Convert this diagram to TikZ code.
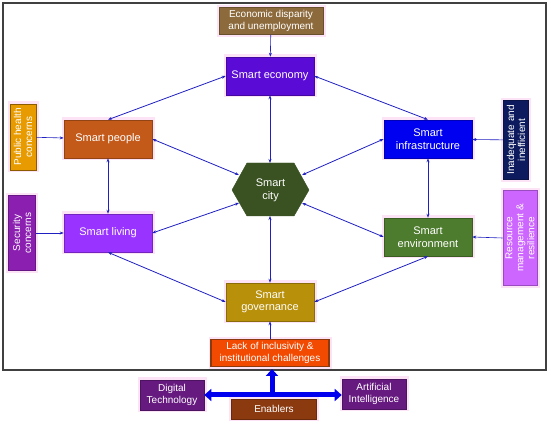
\documentclass[tikz,border=0pt]{standalone}
\usepackage{fontspec}
\setmainfont{Liberation Sans}
\usetikzlibrary{arrows.meta}
\definecolor{cEcon}{HTML}{8C6A3C}
\definecolor{cEconomy}{HTML}{5A0BD6}
\definecolor{cPeople}{HTML}{C45A1A}
\definecolor{cHealth}{HTML}{E89B00}
\definecolor{cInfra}{HTML}{0000F0}
\definecolor{cInad}{HTML}{0D1B5E}
\definecolor{cCity}{HTML}{3A5222}
\definecolor{cLiving}{HTML}{9933FF}
\definecolor{cSecurity}{HTML}{8A1FB0}
\definecolor{cEnv}{HTML}{4E7C2E}
\definecolor{cRes}{HTML}{CC66FF}
\definecolor{cGov}{HTML}{B8900A}
\definecolor{cLack}{HTML}{F24A00}
\definecolor{cTech}{HTML}{661A80}
\definecolor{cEnab}{HTML}{8B3A10}
\definecolor{cLine}{HTML}{2020C0}
\definecolor{cBig}{HTML}{0000EE}
\definecolor{cHalo}{HTML}{FCE4F6}
\begin{document}
\begin{tikzpicture}[x=1pt,y=-1pt,
  halo/.style={preaction={draw=cHalo,line width=5pt}},
  box/.style={halo,draw=#1!75!black,line width=0.6pt,fill=#1,text=white,inner sep=0pt,align=center,
    font=\fontsize{11}{12.5}\selectfont,minimum width=88pt,minimum height=38pt},
  sidebox/.style={halo,draw=#1!75!black,line width=0.6pt,fill=#1,text=white,inner sep=0pt,align=center,
    font=\fontsize{10}{11}\selectfont,rotate=90},
  smallbox/.style={halo,draw=#1!75!black,line width=0.6pt,fill=#1,text=white,inner sep=0pt,align=center,
    font=\fontsize{10}{11.5}\selectfont},
  conn/.style={draw=cLine,line width=0.8pt,>={Stealth[length=4pt,width=3pt]},<->},
  feed/.style={draw=cLine,line width=0.6pt,>={Stealth[length=4pt,width=3pt]},->},
  big/.style={draw=cBig,line width=5pt,>={Triangle[length=7pt,width=12pt]}}
]
\useasboundingbox (0,0) rectangle (550,422);
\draw[line width=1.2pt,draw=black!75] (3,3) rectangle (546,370);

% top
\node[smallbox=cEcon,minimum width=104pt,minimum height=27pt] (econ) at (271,21) {Economic disparity\\and unemployment};
\node[box=cEconomy] (economy) at (270,76) {Smart economy};
\node[box=cPeople] (people) at (108,139) {Smart people};
\node[box=cInfra] (infra) at (428,139) {Smart\\infrastructure};
\node[box=cLiving] (living) at (108,233) {Smart living};
\node[box=cEnv] (env) at (428,237) {Smart\\environment};
\node[box=cGov] (gov) at (270,302) {Smart\\governance};

% side boxes
\node[sidebox=cHealth,draw=cHealth!60!black,minimum width=66pt,minimum height=26pt] (health) at (23,137) {Public health\\concerns};
\node[sidebox=cSecurity,minimum width=75pt,minimum height=27pt] (security) at (22,233) {Security\\concerns};
\node[sidebox=cInad,minimum width=79pt,minimum height=25pt] (inad) at (516,140) {Inadequate and\\inefficient};
\node[sidebox=cRes,minimum width=95pt,minimum height=34pt] (res) at (520,238) {Resource\\management \&\\resilience};

% hexagon
\draw[fill=cCity,draw=cCity] (232,190) -- (247,163) -- (294,163) -- (309,190) -- (294,216) -- (247,216) -- cycle;
\node[text=white,align=center,font=\fontsize{11}{13}\selectfont] (city) at (270.5,190) {Smart\\city};
\coordinate (cn) at (270,163);
\coordinate (cs) at (270,216);
\coordinate (cnw) at (239,175);
\coordinate (cne) at (302,175);
\coordinate (csw) at (239,203);
\coordinate (cse) at (302,203);

% bottom
\node[smallbox=cLack,draw=cEnab,line width=1.5pt,minimum width=118pt,minimum height=27pt] (lack) at (270,353) {Lack of inclusivity \&\\institutional challenges};
\node[smallbox=cTech,minimum width=64pt,minimum height=30pt] (tech) at (172,395) {Digital\\Technology};
\node[smallbox=cTech,minimum width=64pt,minimum height=30pt] (ai) at (374,394) {Artificial\\Intelligence};
\node[smallbox=cEnab,minimum width=85pt,minimum height=20pt] (enab) at (274,409) {Enablers};

% connectors
\draw[feed] (econ) -- (economy);
\draw[conn] (economy.west) -- (people.north);
\draw[conn] (economy.east) -- (infra.north);
\draw[conn] (economy.south) -- (cn);
\draw[conn] (people.east) -- (cnw);
\draw[conn] (infra.west) -- (cne);
\draw[conn] (people.south) -- (living.north);
\draw[conn] (infra.south) -- (env.north);
\draw[conn] (living.east) -- (csw);
\draw[conn] (env.west) -- (cse);
\draw[conn] (living.south) -- (gov.west);
\draw[conn] (env.south) -- (gov.east);
\draw[conn] (cs) -- (gov.north);
\draw[feed] (health) -- (people);
\draw[feed] (security) -- (living);
\draw[feed] (inad) -- (infra);
\draw[feed] (res.north) -- (env.east);
\draw[feed] (lack) -- (gov);

% enablers arrows
\coordinate (hub) at (272,395);
\coordinate (up) at (272,369);
\draw[big,<->] (tech.east) -- (ai.west |- tech.east);
\draw[big,->] (hub) -- (up);
\end{tikzpicture}
\end{document}
